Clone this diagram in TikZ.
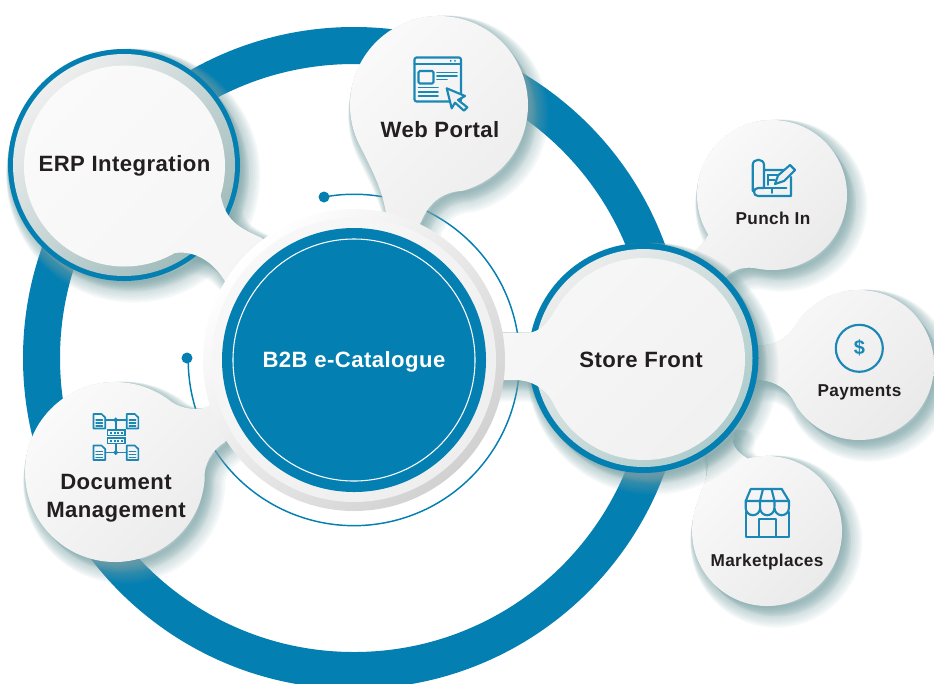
\documentclass[tikz,border=0pt]{standalone}
\usepackage{fontspec}
\setmainfont{Liberation Sans}
\usetikzlibrary{calc}
\definecolor{ringblue}{HTML}{047FB1}
\definecolor{iconblue}{HTML}{1A87B5}
\definecolor{softteal}{HTML}{7FA5A8}
\definecolor{inktext}{HTML}{231F20}
\tikzset{
  biglabel/.style={inner sep=0.75pt,text=inktext,align=center,font=\fontsize{16.6}{21}\selectfont\bfseries\addfontfeatures{LetterSpace=2}},
  smalllabel/.style={inner sep=0.75pt,text=inktext,align=center,font=\fontsize{12.9}{15}\selectfont\bfseries\addfontfeatures{LetterSpace=2}},
  iconline/.style={draw=iconblue,line width=1.6pt,line join=round,line cap=round},
  iconthin/.style={draw=iconblue,line width=1.25pt,line cap=round},
  shadowlayer/.style={draw=softteal,fill=softteal,draw opacity=.075,fill opacity=.075,line join=round},
  blobfill/.style n args={2}{left color=#1,right color=#2,shading angle=45},
}
% outlines of the bubbles with their necks
\newcommand{\erpoutline}{(124.5,166) ++(60:100.5) arc[start angle=60,end angle=377,radius=100.5] .. controls (226,222) and (240,228) .. (262,238) -- (300,300) -- (226,283) .. controls (214,262) and (195,250) .. cycle}
\newcommand{\weboutline}{(439,105) ++(154:89) arc[start angle=154,end angle=434.6,radius=89] .. controls (440,192) and (428,205) .. (421,222) -- (400,250) -- (387,225) .. controls (386,195) and (372,170) .. cycle}
\newcommand{\docoutline}{(115,472) ++(5:90) arc[start angle=5,end angle=309,radius=90] .. controls (180,408) and (200,413) .. (212,404) -- (250,400) -- (225,442) .. controls (212,450) and (203,465) .. cycle}
\newcommand{\storeoutline}{(644,359) ++(220:101) arc[start angle=220,end angle=514,radius=101] .. controls (548,392) and (535,380) .. (515,380) -- (480,380) -- (480,332) -- (525,333) .. controls (548,333) and (552,310) .. cycle}
\newcommand{\punchoutline}{(772,195) ++(148:75) arc[start angle=148,end angle=460,radius=75] .. controls (745,266) and (735,268) .. (725,278) -- (690,280) -- (694,253) .. controls (700,245) and (706,240) .. cycle}
\newcommand{\payoutline}{(859,365) ++(214:75) arc[start angle=214,end angle=506,radius=75] .. controls (790,392) and (778,380) .. (755,380) -- (720,380) -- (720,346) -- (755,346) .. controls (778,346) and (790,335) .. cycle}
\newcommand{\marketoutline}{(767,531) ++(255:75) arc[start angle=255,end angle=558,radius=75] .. controls (700,490) and (710,480) .. (707,457) -- (700,430) -- (735,430) -- (733,442) .. controls (735,450) and (742,455) .. cycle}
% soft shadow under an outline
\newcommand{\softshadow}[1]{%
  \foreach \spread in {0,2,...,22} {
    \path[shadowlayer,line width=\spread*0.75pt,shift={({\spread*0.42},{\spread*0.48})}] #1;
  }
}
\begin{document}
\begin{tikzpicture}[x=0.75pt,y=0.75pt,yscale=-1,xscale=1]
    \useasboundingbox (0,0) rectangle (934,683);
    \clip (0,0) rectangle (934,683);
    %Shape: Ring
    \draw [ringblue,line width=27.75pt] (354,358) circle [radius=312.5];
    %Thin arc with its two dots
    \coordinate (arcstart) at (324,197);
    \coordinate (arcend) at (187,358);
    \draw [ringblue,line width=1.1pt] (arcstart) arc[start angle=259.6,end angle=540.7,radius=165.7];
    \fill [ringblue] (arcstart) circle [radius=5.5];
    \fill [ringblue] (arcend) circle [radius=5.5];
    %Shape: Marketplaces bubble
    \softshadow{\marketoutline}
    \shade [blobfill={ {rgb:white,1;black,0.02} }{ {rgb:white,1;black,0.09} }] \marketoutline;
    %Shape: Payments bubble
    \softshadow{\payoutline}
    \shade [blobfill={ {rgb:white,1;black,0.02} }{ {rgb:white,1;black,0.09} }] \payoutline;
    %Shape: Punch In bubble
    \softshadow{\punchoutline}
    \shade [blobfill={ {rgb:white,1;black,0.02} }{ {rgb:white,1;black,0.09} }] \punchoutline;
    %Shape: Store Front bubble
    \softshadow{(643.5,358) circle [radius=115]}
    \softshadow{\storeoutline}
    \fill [ringblue] (643.5,358) circle [radius=115];
    \shade [blobfill={ {rgb:white,1;black,0.08} }{ {rgb:white,1;black,0.12;teal,0.35} }] (643.5,358) circle [radius=109];
    \shade [blobfill={ {rgb:white,1;black,0.03} }{ {rgb:white,1;black,0.06} }] \storeoutline;
    %Shape: ERP bubble
    \softshadow{(124,165) circle [radius=116]}
    \softshadow{\erpoutline}
    \fill [ringblue] (124,165) circle [radius=116];
    \shade [blobfill={ {rgb:white,1;black,0.07} }{ {rgb:white,1;black,0.25;teal,0.35} }] (124,165) circle [radius=111];
    \shade [blobfill={ {rgb:white,1;black,0.02} }{ {rgb:white,1;black,0.04} }] \erpoutline;
    %Shape: Web Portal bubble
    \softshadow{\weboutline}
    \shade [blobfill={ {rgb:white,1;black,0.02} }{ {rgb:white,1;black,0.08} }] \weboutline;
    %Shape: Document Management bubble
    \softshadow{\docoutline}
    \shade [blobfill={ {rgb:white,1;black,0.02} }{ {rgb:white,1;black,0.09} }] \docoutline;
    %Shape: Hub rings
    \shade [blobfill={white}{ {rgb:white,1;black,0.22} }] (354,360) circle [radius=151];
    \shade [blobfill={ {rgb:white,1;black,0.03} }{ {rgb:white,1;black,0.07} }] (354,360) circle [radius=142];
    \fill [ringblue] (354,360) circle [radius=132];
    \draw [white,line width=0.8pt] (354,360) circle [radius=121];
    %Icon: browser window
    \draw [iconline,rounded corners=1.5pt] (414.5,57.5) rectangle (461,101.5);
    \draw [iconline] (414.5,64) -- (461,64);
    \fill [iconblue] (450.7,60.8) circle [radius=1] (455,60.8) circle [radius=1];
    \draw [iconline,rounded corners=1pt] (418.5,71) rectangle (433.5,83.5);
    \draw [iconthin] (437,72.5) -- (457,72.5) (437,76) -- (457,76) (437,79.5) -- (447,79.5);
    \draw [iconthin] (418.5,87.5) -- (438,87.5) (418.5,91.7) -- (438,91.7) (418.5,96) -- (438,96);
    \draw [iconline,fill=white!94!black] (446.7,88.3) -- (465,96) -- (458,100) -- (467.3,107.3) -- (464,110.7) -- (455,102.7) -- (451.7,108.3) -- cycle;
    %Icon: documents and servers
    \foreach \docx/\docy in {93.5/414,126.7/414,93.5/445.5,126.7/445.5} {
      \draw [iconthin,line join=round] (\docx,\docy) -- ({\docx+8},\docy) -- ({\docx+11.7},{\docy+3.5}) -- ({\docx+11.7},{\docy+14.5}) -- (\docx,{\docy+14.5}) -- cycle;
      \draw [iconthin,line width=1pt] ({\docx+2.5},{\docy+6}) -- ({\docx+9},{\docy+6}) ({\docx+2.5},{\docy+9}) -- ({\docx+9},{\docy+9}) ({\docx+2.5},{\docy+12}) -- ({\docx+9},{\docy+12});
    }
    \draw [iconthin] (105.2,420) -- (126.7,420) (115.7,420) -- (115.7,430) (115.7,443.7) -- (115.7,452.5) (105.2,452.5) -- (126.7,452.5);
    \draw [iconthin,fill=iconblue] (115.7,420) circle [radius=1.5] (115.7,452.5) circle [radius=1.5];
    \draw [iconthin,line width=1pt] (107.3,430) rectangle (125,435.7) (107.3,438) rectangle (125,443.7);
    \draw [iconblue,line width=0.9pt,dash pattern=on 1.5pt off 1.2pt] (110,432.9) -- (123,432.9) (110,440.9) -- (123,440.9);
    %Icon: plan and pencil
    \draw [iconline] (764,170) -- (785,170) (791,177) -- (791,196) -- (758,196) .. controls (752.7,196) and (752.7,188) .. (758,188) -- (764,188) -- (764,165) .. controls (764,158) and (752.7,158) .. (752.7,165) -- (752.7,191);
    \draw [iconthin] (764,188.3) -- (786.5,188.3) (771.7,188.3) -- (771.7,193);
    \draw [iconthin] (768.3,185) -- (768.3,175) -- (778,175) (768.3,180) -- (775,180);
    \draw [iconline,fill=white!94!black] (775,184) -- (778,175.5) -- (790,165) -- (795,170) -- (784,181) -- cycle;
    %Icon: dollar circle
    \draw [iconline] (859.3,348.3) circle [radius=23.5];
    \draw (859.3,348.3) node (dollarsign) [inner sep=0pt,text=iconblue,font=\fontsize{15}{15}\selectfont\bfseries] {\$};
    %Icon: shop front
    \draw [iconline] (750.7,489) -- (781.7,489) -- (789,501) -- (745.7,501) -- cycle;
    \draw [iconline] (760,501) -- (763,489) (774.5,501) -- (771.5,489);
    \draw [iconline] (745.7,501) -- (745.7,508) arc[start angle=180,end angle=0,radius=7.2] -- (760,501) (760,508) arc[start angle=180,end angle=0,radius=7.2] -- (774.5,501) (774.5,508) arc[start angle=180,end angle=0,radius=7.2] -- (789,501);
    \draw [iconline] (745.7,512) -- (745.7,536.7) -- (789,536.7) -- (789,512);
    \draw [iconline] (759.3,536.7) -- (759.3,519.3) -- (775.7,519.3) -- (775.7,536.7);
    % Text Node
    \draw (354,362) node (hublabel) [biglabel,text=white] {B2B e-Catalogue};
    % Text Node
    \draw (124.5,165.5) node (erplabel) [biglabel] {ERP Integration};
    % Text Node
    \draw (440,130) node (weblabel) [biglabel] {Web Portal};
    % Text Node
    \draw (641,360) node (storelabel) [biglabel] {Store Front};
    % Text Node
    \draw (116,498.5) node (doclabel) [biglabel] {Document\\Management};
    % Text Node
    \draw (773,218) node (punchlabel) [smalllabel] {Punch In};
    % Text Node
    \draw (859.5,392) node (paylabel) [smalllabel] {Payments};
    % Text Node
    \draw (767,562) node (marketlabel) [smalllabel] {Marketplaces};
\end{tikzpicture}
\end{document}
